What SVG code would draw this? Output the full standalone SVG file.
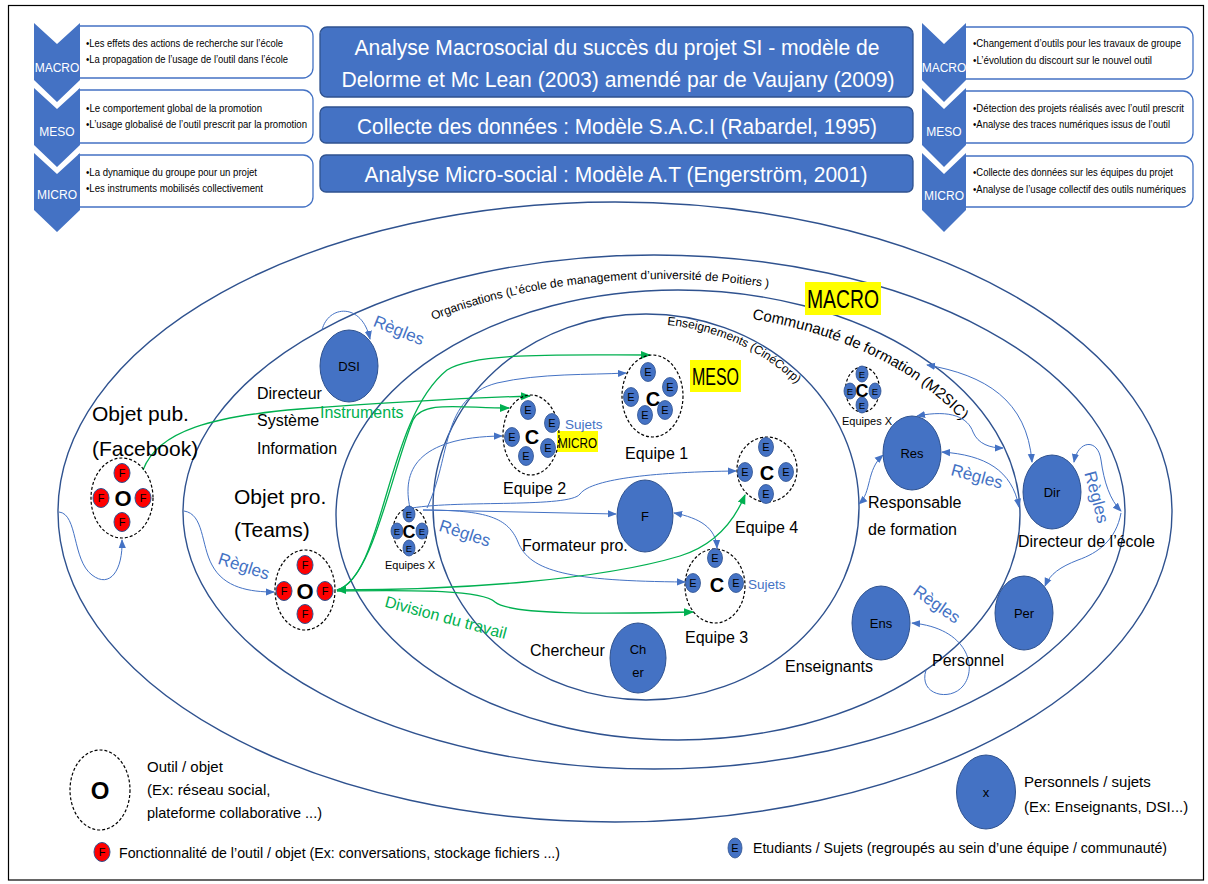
<svg xmlns="http://www.w3.org/2000/svg" width="1208" height="884" viewBox="0 0 1208 884">
<defs>
<style>
text{font-family:"Liberation Sans",Arial,sans-serif;fill:#000}
.box{fill:#4472C4;stroke:#2F528F;stroke-width:1.3}
.ttl{fill:#fff;font-size:22.5px;text-anchor:middle}
.chev{fill:#4472C4}
.chevT{fill:#fff;font-size:12px;text-anchor:middle}
.panel{fill:#fff;stroke:#4472C4;stroke-width:1.3}
.pt{font-size:10.5px}
.ring{fill:none;stroke:#2F528F;stroke-width:1.4}
.person{fill:#4472C4;stroke:#2F528F;stroke-width:1}
.pT{font-size:13px;text-anchor:middle}
.e{fill:#4472C4;stroke:#2F528F;stroke-width:0.8}
.eT{font-size:11px;text-anchor:middle}
.eS{font-size:9.5px;text-anchor:middle}
.f{fill:#FF0000;stroke:#2F528F;stroke-width:1}
.dash{fill:none;stroke:#000;stroke-width:1.2;stroke-dasharray:3 2}
.big{font-weight:bold;text-anchor:middle}
.lbl{font-size:16px}
.lg{font-size:15px}
.rg{font-size:17px;fill:#4472C4;text-anchor:middle}
.gT{font-size:16px;fill:#00B050}
.cb{fill:none;stroke:#4472C4;stroke-width:1}
.cg{fill:none;stroke:#00B050;stroke-width:1.3}
.hl{fill:#FFFF00}
</style>
<marker id="ab" viewBox="0 0 10 10" refX="9" refY="5" markerWidth="9" markerHeight="9" markerUnits="userSpaceOnUse" orient="auto-start-reverse"><path d="M0,1 L10,5 L0,9 z" fill="#4472C4"/></marker>
<marker id="ag" viewBox="0 0 10 10" refX="9" refY="5" markerWidth="10" markerHeight="10" markerUnits="userSpaceOnUse" orient="auto-start-reverse"><path d="M0,1 L10,5 L0,9 z" fill="#00B050"/></marker>
<g id="eDot"><ellipse class="e" rx="7.5" ry="9.5"/><text class="eT" y="4">E</text></g>
<g id="eSm"><ellipse class="e" rx="6" ry="8"/><text class="eS" y="3.5">E</text></g>
<g id="fDot"><ellipse class="f" rx="8" ry="9.5"/><text class="eT" y="4">F</text></g>
<path id="pOrg" d="M 433 320 A 405 236 0 0 1 820 298"/>
<path id="pCom" d="M 752 319 A 335 208 0 0 1 990 463"/>
<path id="pEns" d="M 667 325 A 203 183 0 0 1 835 440"/>
</defs>

<rect x="8.5" y="5.5" width="1195" height="874.5" fill="#fff" stroke="#000" stroke-width="1.2"/>

<g id="levels">
<ellipse class="ring" cx="615" cy="512" rx="557" ry="310"/>
<ellipse class="ring" cx="654" cy="512" rx="471" ry="257"/>
<ellipse class="ring" cx="678" cy="515" rx="342" ry="225"/>
<ellipse class="ring" cx="646" cy="507" rx="213" ry="193"/>
<text font-size="12"><textPath href="#pOrg">Organisations (L’école de management d’université de Poitiers )</textPath></text>
<text font-size="15"><textPath href="#pCom">Communauté de formation (M2SIC)</textPath></text>
<text font-size="12"><textPath href="#pEns">Enseignements (CinéCorp)</textPath></text>
</g>

<g id="title-macro"><rect class="box" x="320" y="27" width="593" height="70" rx="7"/>
<text class="ttl" x="617" y="55" textLength="525" lengthAdjust="spacingAndGlyphs">Analyse Macrosocial du succès du projet SI - modèle de</text>
<text class="ttl" x="618" y="87" textLength="553" lengthAdjust="spacingAndGlyphs">Delorme et Mc Lean (2003) amendé par de Vaujany (2009)</text></g>
<g id="title-saci"><rect class="box" x="320" y="107" width="593" height="36" rx="6"/>
<text class="ttl" x="617" y="134" textLength="520" lengthAdjust="spacingAndGlyphs">Collecte des données : Modèle S.A.C.I (Rabardel, 1995)</text></g>
<g id="title-at"><rect class="box" x="320" y="155" width="593" height="37" rx="6"/>
<text class="ttl" x="616" y="182" textLength="503" lengthAdjust="spacingAndGlyphs">Analyse Micro-social : Modèle A.T (Engerström, 2001)</text></g>

<g id="left-macro"><path class="panel" d="M79 26 H303 A10 10 0 0 1 313 36 V68 A10 10 0 0 1 303 78 H79 Z"/>
<polygon class="chev" points="34,23 57,44 80,23 80,80 57,102 34,80"/><text class="chevT" x="57" y="72">MACRO</text>
<text class="pt" x="86" y="47" textLength="197" lengthAdjust="spacingAndGlyphs">•Les effets des actions de recherche sur l’école</text>
<text class="pt" x="86" y="63" textLength="202" lengthAdjust="spacingAndGlyphs">•La propagation de l’usage de l’outil dans l’école</text></g>
<g id="left-meso"><path class="panel" d="M79 90 H303 A10 10 0 0 1 313 100 V133 A10 10 0 0 1 303 143 H79 Z"/>
<polygon class="chev" points="34,88 57,109 80,88 80,145 57,167 34,145"/><text class="chevT" x="57" y="136">MESO</text>
<text class="pt" x="86" y="112" textLength="176" lengthAdjust="spacingAndGlyphs">•Le comportement global de la promotion</text>
<text class="pt" x="86" y="128" textLength="221" lengthAdjust="spacingAndGlyphs">•L’usage globalisé de l’outil prescrit par la promotion</text></g>
<g id="left-micro"><path class="panel" d="M79 155 H303 A10 10 0 0 1 313 165 V197 A10 10 0 0 1 303 207 H79 Z"/>
<polygon class="chev" points="34,153 57,174 80,153 80,210 57,232 34,210"/><text class="chevT" x="57" y="199">MICRO</text>
<text class="pt" x="86" y="176" textLength="171" lengthAdjust="spacingAndGlyphs">•La dynamique du groupe pour un projet</text>
<text class="pt" x="86" y="192" textLength="177" lengthAdjust="spacingAndGlyphs">•Les instruments mobilisés collectivement</text></g>

<g id="right-macro"><path class="panel" d="M965 27 H1183 A10 10 0 0 1 1193 37 V69 A10 10 0 0 1 1183 79 H965 Z"/>
<polygon class="chev" points="922,23 944,44 966,23 966,80 944,102 922,80"/><text class="chevT" x="944" y="72">MACRO</text>
<text class="pt" x="973" y="47" textLength="208" lengthAdjust="spacingAndGlyphs">•Changement d’outils pour les travaux de groupe</text>
<text class="pt" x="973" y="64" textLength="179" lengthAdjust="spacingAndGlyphs">•L’évolution du discourt sur le nouvel outil</text></g>
<g id="right-meso"><path class="panel" d="M965 91 H1183 A10 10 0 0 1 1193 101 V133 A10 10 0 0 1 1183 143 H965 Z"/>
<polygon class="chev" points="922,88 944,109 966,88 966,145 944,167 922,145"/><text class="chevT" x="944" y="136">MESO</text>
<text class="pt" x="973" y="112" textLength="211" lengthAdjust="spacingAndGlyphs">•Détection des projets réalisés avec l’outil prescrit</text>
<text class="pt" x="973" y="128" textLength="197" lengthAdjust="spacingAndGlyphs">•Analyse des traces numériques issus de l’outil</text></g>
<g id="right-micro"><path class="panel" d="M965 156 H1183 A10 10 0 0 1 1193 166 V197 A10 10 0 0 1 1183 207 H965 Z"/>
<polygon class="chev" points="922,153 944,174 966,153 966,210 944,232 922,210"/><text class="chevT" x="944" y="200">MICRO</text>
<text class="pt" x="973" y="176" textLength="200" lengthAdjust="spacingAndGlyphs">•Collecte des données sur les équipes du projet</text>
<text class="pt" x="973" y="193" textLength="213" lengthAdjust="spacingAndGlyphs">•Analyse de l’usage collectif des outils numériques</text></g>

<g id="tag-macro"><rect class="hl" x="805" y="282" width="76" height="33"/><text x="843" y="308" font-size="26" text-anchor="middle" textLength="72" lengthAdjust="spacingAndGlyphs">MACRO</text></g>
<g id="tag-meso"><rect class="hl" x="690" y="360" width="51" height="32"/><text x="715.5" y="385" font-size="23" text-anchor="middle" textLength="47" lengthAdjust="spacingAndGlyphs">MESO</text></g>
<g id="tag-micro"><rect class="hl" x="557" y="431" width="41" height="21"/><text x="577.5" y="448" font-size="14" text-anchor="middle" textLength="39" lengthAdjust="spacingAndGlyphs">MICRO</text></g>

<g id="connectors">
<path class="cb" marker-end="url(#ab)" d="M322 330 C328 305 362 302 370 339"/>
<path class="cb" marker-end="url(#ab)" d="M59 512 C78 514 72 560 92 575 C110 589 123 570 122 540"/>
<path class="cb" marker-end="url(#ab)" d="M184 511 C204 514 201 545 212 565 C224 588 250 592 274 592"/>
<path class="cb" marker-end="url(#ab)" d="M410 508 C402 472 415 437 502 436"/>
<path class="cb" marker-end="url(#ab)" d="M427 508 C452 455 440 398 497 383 C540 373 590 375 626 373"/>
<path class="cb" marker-end="url(#ab)" d="M412 508 C460 500 570 508 580 494 C592 478 660 472 736 471"/>
<path class="cb" marker-end="url(#ab)" d="M423 510 L616 514"/>
<path class="cb" marker-end="url(#ab)" d="M423 510 C488 510 508 518 518 542 C530 572 570 581 685 582"/>
<path class="cb" marker-start="url(#ab)" marker-end="url(#ab)" d="M674 513 C700 518 716 528 717 548"/>
<path class="cb" marker-start="url(#ab)" marker-end="url(#ab)" d="M883 455 C866 470 872 492 859 504"/>
<path class="cb" marker-start="url(#ab)" marker-end="url(#ab)" d="M917 416 C952 409 968 418 973 432 C978 444 990 448 1003 448"/>
<path class="cb" marker-start="url(#ab)" marker-end="url(#ab)" d="M942 452 C985 455 1012 470 1019 507"/>
<path class="cb" marker-start="url(#ab)" marker-end="url(#ab)" d="M927 365 C985 375 1027 400 1032 462"/>
<path class="cb" marker-start="url(#ab)" marker-end="url(#ab)" d="M1074 462 C1078 440 1098 438 1101 460 C1104 482 1110 500 1121 511"/>
<path class="cb" marker-end="url(#ab)" d="M1121 513 C1116 540 1098 553 1078 560 C1060 567 1050 574 1045 586"/>
<path class="cb" marker-end="url(#ab)" d="M926 670 C918 695 950 702 963 686 C978 668 968 628 912 623"/>
<path class="cg" marker-end="url(#ag)" d="M143 470 C158 430 215 416 300 409 C380 403 470 398 530 396"/>
<path class="cg" marker-end="url(#ag)" d="M337 590 C372 582 392 470 413 420 C423 400 460 408 509 408"/>
<path class="cg" marker-end="url(#ag)" d="M337 590 C385 575 385 420 447 370 C475 352 560 355 650 355"/>
<path class="cg" marker-start="url(#ag)" marker-end="url(#ag)" d="M337 590 C460 590 600 580 680 556 C712 546 733 524 745 495"/>
<path class="cg" marker-end="url(#ag)" d="M337 591 C420 590 482 590 495 602 C510 615 600 614 693 612"/>
<text class="gT" x="320" y="418">Instruments</text>
<text class="gT" x="446" y="623" text-anchor="middle" transform="rotate(15 446 617)">Division du travail</text>
<text class="rg" x="399" y="336" transform="rotate(22 399 330)">Règles</text>
<text class="rg" x="244" y="572" transform="rotate(18 244 566)">Règles</text>
<text class="rg" x="465" y="539" transform="rotate(18 465 533)">Règles</text>
<text class="rg" x="977" y="482" transform="rotate(15 977 476)">Règles</text>
<text class="rg" x="1097" y="503" transform="rotate(75 1097 497)">Règles</text>
<text class="rg" x="937" y="610" transform="rotate(35 937 604)">Règles</text>
</g>

<g id="obj-facebook">
<text x="92" y="421" font-size="21">Objet pub.</text><text x="92" y="456" font-size="21">(Facebook)</text>
<ellipse class="dash" cx="122" cy="498" rx="31" ry="40"/>
<use href="#fDot" x="122" y="473"/><use href="#fDot" x="101" y="498"/><use href="#fDot" x="143" y="498"/><use href="#fDot" x="122" y="522"/>
<text class="big" x="123" y="506" font-size="22">O</text></g>
<g id="obj-teams">
<text x="234" y="504" font-size="21">Objet pro.</text><text x="234" y="537" font-size="21">(Teams)</text>
<ellipse class="dash" cx="305" cy="590" rx="30" ry="40"/>
<use href="#fDot" x="305" y="565"/><use href="#fDot" x="284" y="591"/><use href="#fDot" x="325" y="591"/><use href="#fDot" x="305" y="614"/>
<text class="big" x="305" y="599" font-size="22">O</text></g>

<g id="node-dsi"><ellipse class="person" cx="349" cy="366" rx="29" ry="36"/><text class="pT" x="349" y="371">DSI</text>
<text class="lbl" x="257" y="399">Directeur</text><text class="lbl" x="257" y="426">Système</text><text class="lbl" x="257" y="454">Information</text></g>
<g id="node-f"><ellipse class="person" cx="645" cy="516" rx="28" ry="36"/><text class="pT" x="645" y="521">F</text>
<text class="lbl" x="522" y="551">Formateur pro.</text></g>
<g id="node-cher"><ellipse class="person" cx="638" cy="658" rx="28" ry="35"/><text class="pT" x="638" y="654" font-size="14">Ch</text><text class="pT" x="638" y="677" font-size="14">er</text>
<text class="lbl" x="530" y="656">Chercheur</text></g>
<g id="node-res"><ellipse class="person" cx="912" cy="453" rx="29" ry="37"/><text class="pT" x="912" y="458">Res</text>
<text class="lbl" x="868" y="508">Responsable</text><text class="lbl" x="868" y="535">de formation</text></g>
<g id="node-dir"><ellipse class="person" cx="1052" cy="492" rx="29" ry="37"/><text class="pT" x="1052" y="497">Dir</text>
<text class="lbl" x="1018" y="547">Directeur de l’école</text></g>
<g id="node-per"><ellipse class="person" cx="1024" cy="613" rx="29" ry="37"/><text class="pT" x="1024" y="618">Per</text>
<text class="lbl" x="932" y="666">Personnel</text></g>
<g id="node-ens"><ellipse class="person" cx="881" cy="623" rx="29" ry="37"/><text class="pT" x="881" y="628">Ens</text>
<text class="lbl" x="785" y="672">Enseignants</text></g>

<g id="equipe-2"><ellipse class="dash" cx="531" cy="435" rx="28" ry="40"/>
<use href="#eDot" x="528" y="410"/><use href="#eDot" x="552" y="423"/><use href="#eDot" x="512" y="437"/><use href="#eDot" x="548" y="448"/><use href="#eDot" x="526" y="456"/>
<text class="big" x="532" y="444" font-size="20">C</text>
<text class="lbl" x="503" y="494">Equipe 2</text>
<text x="565" y="429" font-size="13.5" style="fill:#4472C4">Sujets</text></g>
<g id="equipe-1"><ellipse class="dash" cx="652.5" cy="396" rx="30.5" ry="41"/>
<use href="#eDot" x="648" y="372"/><use href="#eDot" x="670" y="387"/><use href="#eDot" x="631" y="397"/><use href="#eDot" x="665" y="410"/><use href="#eDot" x="645" y="415"/>
<text class="big" x="653" y="406" font-size="20">C</text>
<text class="lbl" x="625" y="459">Equipe 1</text></g>
<g id="equipe-4"><ellipse class="dash" cx="767" cy="469.5" rx="30" ry="32.5"/>
<use href="#eDot" x="766" y="447"/><use href="#eDot" x="745" y="472"/><use href="#eDot" x="786" y="472"/><use href="#eDot" x="766" y="494"/>
<text class="big" x="767" y="480" font-size="20">C</text>
<text class="lbl" x="735" y="533">Equipe 4</text></g>
<g id="equipe-3"><ellipse class="dash" cx="715" cy="586" rx="30" ry="37"/>
<use href="#eDot" x="715" y="558"/><use href="#eDot" x="693" y="583"/><use href="#eDot" x="736" y="583"/>
<text class="big" x="717" y="592" font-size="20">C</text>
<text class="lbl" x="685" y="643">Equipe 3</text>
<text x="748" y="589" font-size="13.5" style="fill:#4472C4">Sujets</text></g>
<g id="equipes-x-left"><ellipse class="dash" cx="410" cy="531" rx="17" ry="23"/>
<use href="#eSm" x="409" y="514"/><use href="#eSm" x="397" y="531"/><use href="#eSm" x="422" y="531"/><use href="#eSm" x="409" y="548"/>
<text class="big" x="409" y="538" font-size="18">C</text>
<text x="410" y="569" font-size="11" text-anchor="middle">Equipes X</text></g>
<g id="equipes-x-right"><ellipse class="dash" cx="862.5" cy="389.5" rx="17" ry="22.5"/>
<use href="#eSm" x="862" y="374"/><use href="#eSm" x="850" y="391"/><use href="#eSm" x="875" y="391"/><use href="#eSm" x="862" y="405"/>
<text class="big" x="862" y="397" font-size="18">C</text>
<text x="867" y="425" font-size="11" text-anchor="middle">Equipes X</text></g>

<g id="legend-outil"><ellipse class="dash" cx="100" cy="790" rx="30" ry="40"/><text class="big" x="100" y="799" font-size="24">O</text>
<text class="lg" x="147" y="772">Outil / objet</text><text class="lg" x="147" y="795">(Ex: réseau social,</text>
<text class="lg" x="147" y="818" textLength="175" lengthAdjust="spacingAndGlyphs">plateforme collaborative ...)</text></g>
<g id="legend-fonction"><use href="#fDot" x="102" y="852"/>
<text class="lg" x="119" y="858" textLength="441" lengthAdjust="spacingAndGlyphs">Fonctionnalité de l’outil / objet (Ex: conversations, stockage fichiers ...)</text></g>
<g id="legend-personnel"><ellipse class="person" cx="986" cy="792" rx="29.5" ry="37"/><text class="pT" x="986" y="797">x</text>
<text class="lg" x="1024" y="787">Personnels / sujets</text><text class="lg" x="1024" y="812">(Ex: Enseignants, DSI...)</text></g>
<g id="legend-etudiant"><ellipse class="e" cx="735" cy="848" rx="7" ry="10"/><text class="eT" x="735" y="852">E</text>
<text class="lg" x="753" y="853" textLength="414" lengthAdjust="spacingAndGlyphs">Etudiants / Sujets (regroupés au sein d’une équipe / communauté)</text></g>
</svg>
